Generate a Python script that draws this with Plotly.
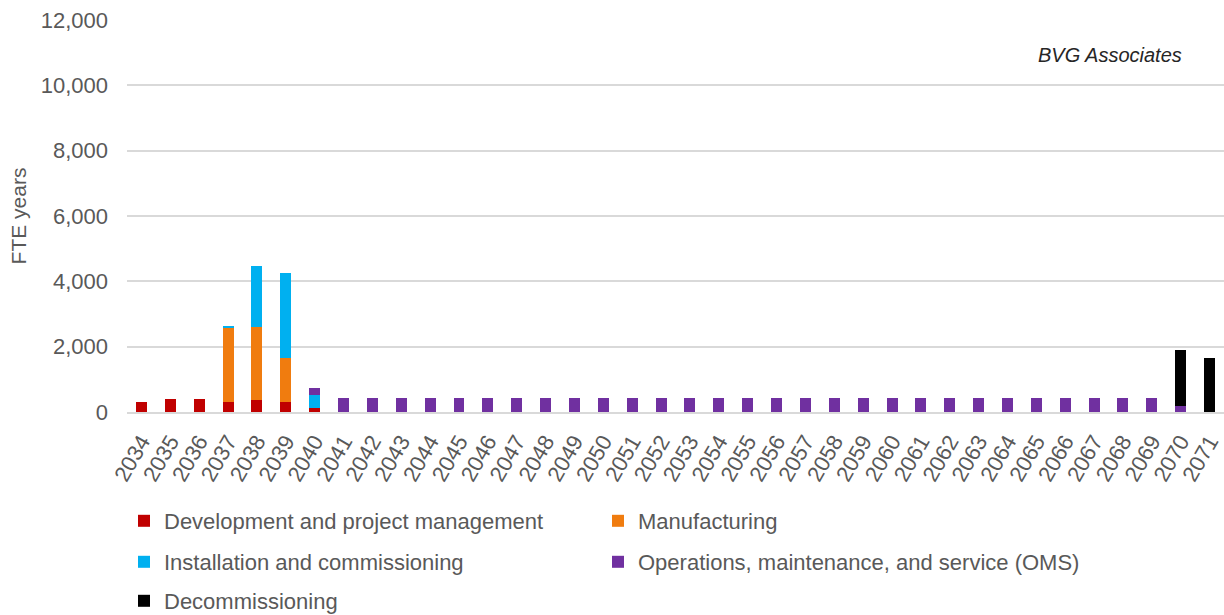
import plotly.graph_objects as go

# Annual FTE-years by project phase
years = [str(y) for y in range(2034, 2072)]

development = [300, 410, 400, 320, 370, 320, 120] + [0] * 31
manufacturing = [0, 0, 0, 2280, 2220, 1330, 0] + [0] * 31
installation = [0, 0, 0, 40, 1870, 2600, 410] + [0] * 31
oms = [0, 0, 0, 0, 0, 0, 220] + [440] * 29 + [170, 0]
decommissioning = [0] * 36 + [1730, 1650]

series = [
    ("Development and project management", development, "#C00000"),
    ("Manufacturing", manufacturing, "#F07C0F"),
    ("Installation and commissioning", installation, "#00B0F0"),
    ("Operations, maintenance, and service (OMS)", oms, "#7030A0"),
    ("Decommissioning", decommissioning, "#000000"),
]

W, H = 1224, 615
FONT = "Liberation Sans, Arial, sans-serif"
GREY = "#595959"
FS = 22

# one legend box per entry, placed on a two-column grid under the axis
legend_pos = [(124, 521), (598, 521), (124, 562), (598, 562), (124, 601)]
legend_ids = ["legend", "legend2", "legend3", "legend4", "legend5"]

fig = go.Figure()
for (name, vals, color), lid in zip(series, legend_ids):
    fig.add_trace(go.Bar(
        x=years, y=vals, name=name,
        marker=dict(color=color, line=dict(width=0)),
        legend=lid,
        showlegend=True,
    ))

layout_legends = {}
for (px, py), lid in zip(legend_pos, legend_ids):
    layout_legends[lid] = dict(
        xref="container", yref="container",
        x=px / W, y=1 - py / H,
        xanchor="left", yanchor="middle",
        orientation="h",
        font=dict(family=FONT, size=FS, color=GREY),
        bgcolor="rgba(0,0,0,0)",
        visible=True,
    )

fig.update_layout(
    width=W, height=H,
    showlegend=True,
    barmode="stack",
    bargap=0.62,
    plot_bgcolor="white",
    paper_bgcolor="white",
    margin=dict(l=127, r=0, t=20, b=203),
    font=dict(family=FONT, size=FS, color=GREY),
    xaxis=dict(
        type="category",
        tickangle=-60,
        showline=True, linecolor="#d9d9d9", linewidth=2,
        showgrid=False,
        ticks="",
        ticklabelstandoff=6,
        tickfont=dict(family=FONT, size=FS, color=GREY),
    ),
    yaxis=dict(
        range=[0, 12000],
        dtick=2000,
        tickformat=",",
        showgrid=True, gridcolor="#d9d9d9", gridwidth=2,
        zeroline=False,
        ticks="",
        ticklabelstandoff=18,
        tickfont=dict(family=FONT, size=FS, color=GREY),
        title=dict(text="FTE years", standoff=8,
                   font=dict(family=FONT, size=21, color=GREY)),
    ),
    annotations=[dict(
        text="<i>BVG Associates</i>",
        xref="paper", yref="paper",
        x=(1184 - 127) / 1097, y=(412 - 55) / 392,
        xanchor="right", yanchor="middle",
        showarrow=False,
        font=dict(family=FONT, size=20, color="#262626"),
    )],
    **layout_legends,
)

fig.write_html("out.html")
